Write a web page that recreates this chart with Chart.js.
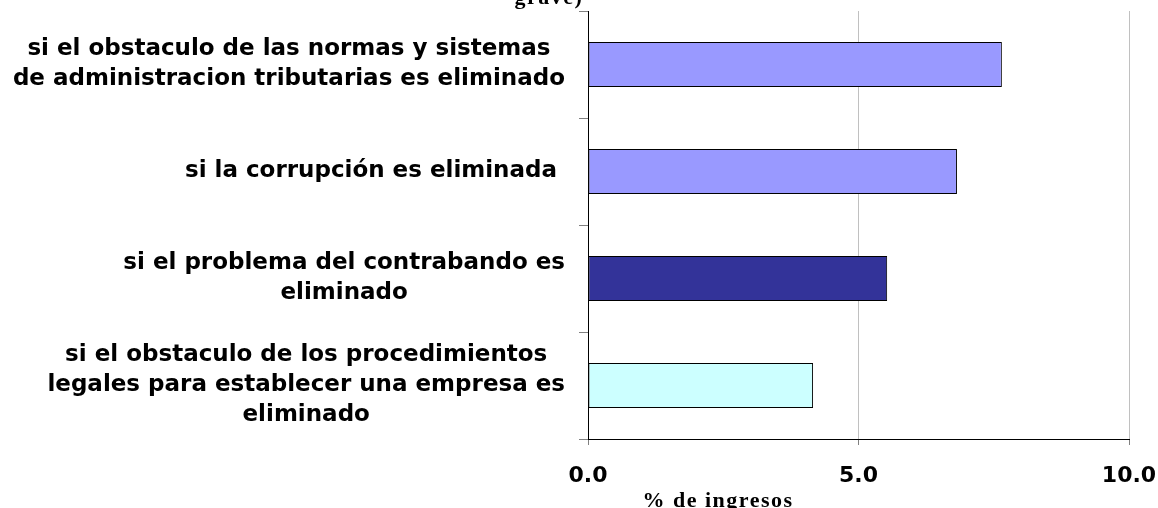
<!DOCTYPE html>
<html lang="es">
<head>
    <meta charset="UTF-8">
    <title>Ingresos - obstaculos</title>
    <script src="https://cdn.jsdelivr.net/npm/chart.js"></script>
    <style>
        body { margin: 0; background: #fff; }
        .grafico-box { width: 1158px; height: 508px; }
    </style>
</head>
<body>
    <div class="grafico-box">
        <canvas id="grafico1"></canvas>
    </div>
    <script>
        // datos
        const categorias = [
            ['si el obstaculo de las normas y sistemas', 'de administracion tributarias es eliminado'],
            ['si la corrupción es eliminada '],
            ['si el problema del contrabando es', 'eliminado'],
            ['si el obstaculo de los procedimientos', 'legales para establecer una empresa es', 'eliminado']
        ];
        const valores = [7.65, 6.82, 5.53, 4.16];
        const colores = ['#9999ff', '#9999ff', '#333399', '#ccffff'];
        const ticksX = [0, 5, 10];
        const tituloX = '% de ingresos';
        const tituloArriba = 'grave)';

        // etiquetas del eje y: cada bloque alineado a la derecha, lineas centradas dentro del bloque (como Excel)
        const etiquetasY = {
            id: 'etiquetasY',
            afterDraw(chart) {
                const ctx = chart.ctx;
                const ejeY = chart.scales.y;
                const derecha = ejeY.right - 23;
                const alto = 30;
                ctx.save();
                ctx.fillStyle = '#000';
                ctx.font = 'bold 23px "DejaVu Sans"';
                ctx.textAlign = 'center';
                ctx.textBaseline = 'middle';
                chart.data.labels.forEach((lineas, i) => {
                    const ancho = Math.max(...lineas.map(l => ctx.measureText(l).width));
                    const cx = derecha - ancho / 2;
                    const cy = ejeY.getPixelForTick(i);
                    lineas.forEach((l, j) => {
                        ctx.fillText(l, cx, cy + (j - (lineas.length - 1) / 2) * alto);
                    });
                });
                ctx.restore();
            }
        };

        // titulos en serif (el de arriba queda cortado como en el original)
        const titulos = {
            id: 'titulos',
            afterDraw(chart) {
                const ctx = chart.ctx;
                ctx.save();
                ctx.fillStyle = '#000';
                ctx.font = 'bold 22px "Liberation Serif"';
                ctx.textAlign = 'center';
                ctx.textBaseline = 'alphabetic';
                ctx.letterSpacing = '1.5px';
                ctx.fillText(tituloArriba, 549, 4);
                ctx.fillText(tituloX, 718, 507);
                ctx.restore();
            }
        };

        const ctx1 = document.getElementById('grafico1');

        new Chart(ctx1, {
            type: 'bar',
            data: {
                labels: categorias,
                datasets: [{
                    data: valores,
                    backgroundColor: colores,
                    borderColor: '#000',
                    borderWidth: 1,
                    borderSkipped: false,
                    barPercentage: 0.42,
                    categoryPercentage: 1
                }]
            },
            options: {
                indexAxis: 'y',
                responsive: true,
                maintainAspectRatio: false,
                animation: false,
                layout: { padding: { top: 11, left: 0, right: 0, bottom: 0 } },
                plugins: {
                    legend: { display: false },
                    tooltip: { enabled: false }
                },
                scales: {
                    x: {
                        min: 0,
                        max: 10,
                        afterBuildTicks(scale) {
                            scale.ticks = ticksX.map(v => ({ value: v }));
                        },
                        afterFit(scale) {
                            scale.height = 69;
                            scale.paddingLeft = 0;
                            scale.paddingRight = 29;
                        },
                        ticks: {
                            callback: v => Number(v).toFixed(1),
                            font: { family: 'DejaVu Sans', size: 22, weight: 'bold' },
                            color: '#000',
                            padding: 18,
                            maxRotation: 0
                        },
                        grid: {
                            color: c => c.tick && c.tick.value === 0 ? 'rgba(0,0,0,0)' : '#c0c0c0',
                            tickColor: '#808080',
                            tickLength: 6,
                            lineWidth: 1
                        },
                        border: { color: '#000', width: 1 }
                    },
                    y: {
                        afterFit(scale) {
                            scale.width = 588;
                            scale.paddingTop = 0;
                            scale.paddingBottom = 0;
                        },
                        ticks: {
                            display: false,
                            autoSkip: false
                        },
                        grid: {
                            drawOnChartArea: false,
                            tickColor: '#808080',
                            tickLength: 9
                        },
                        border: { color: '#000', width: 1 }
                    }
                }
            },
            plugins: [etiquetasY, titulos]
        });
    </script>
</body>
</html>
